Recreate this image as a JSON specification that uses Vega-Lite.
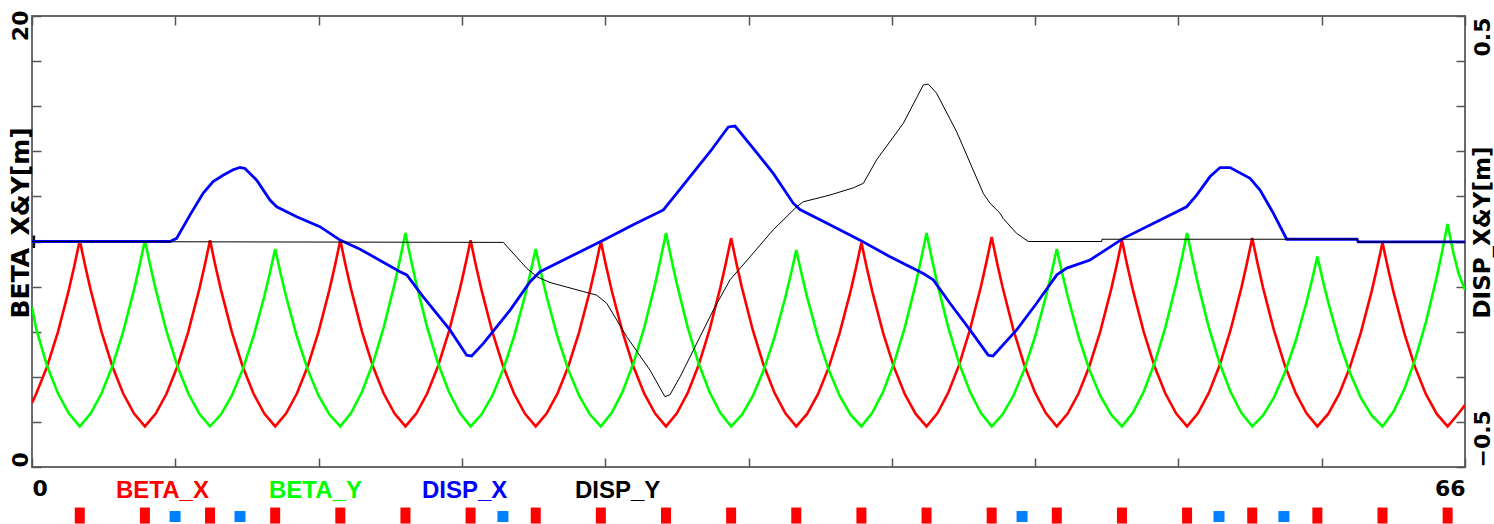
{
  "$schema": "https://vega.github.io/schema/vega-lite/v6.json",
  "width": 1433,
  "height": 451,
  "autosize": {"type": "none"},
  "padding": {"left": 32, "top": 16, "right": 29, "bottom": 57},
  "background": "white",
  "config": {
    "view": {"stroke": "#6a6a6a", "strokeWidth": 2},
    "axis": {"grid": false, "domain": false, "tickColor": "#555555", "tickWidth": 1.5, "labelFont": "DejaVu Sans", "labelFontWeight": "bold", "labelFontSize": 22, "labelColor": "#000000", "titleFont": "DejaVu Sans", "titleFontWeight": "bold", "titleFontSize": 25, "titleColor": "#000000"},
    "legend": {"labelFontWeight": "bold"}
  },
  "datasets": {
    "optics": [
      {"s":0,"v":2.84,"k":"BETA_X"},{"s":0.2,"v":3.257,"k":"BETA_X"},{"s":0.7,"v":4.47,"k":"BETA_X"},{"s":1.2,"v":6.007,"k":"BETA_X"},{"s":1.7,"v":7.867,"k":"BETA_X"},{"s":1.95,"v":8.918,"k":"BETA_X"},{"s":2.2,"v":10.05,"k":"BETA_X"},{"s":2.45,"v":8.918,"k":"BETA_X"},{"s":2.7,"v":7.867,"k":"BETA_X"},{"s":3.2,"v":6.007,"k":"BETA_X"},{"s":3.7,"v":4.47,"k":"BETA_X"},{"s":4.2,"v":3.257,"k":"BETA_X"},{"s":4.7,"v":2.367,"k":"BETA_X"},{"s":5.2,"v":1.8,"k":"BETA_X"},
      {"s":5.7,"v":2.367,"k":"BETA_X"},{"s":6.2,"v":3.257,"k":"BETA_X"},{"s":6.7,"v":4.47,"k":"BETA_X"},{"s":7.2,"v":6.007,"k":"BETA_X"},{"s":7.7,"v":7.867,"k":"BETA_X"},{"s":7.95,"v":8.918,"k":"BETA_X"},{"s":8.2,"v":10.05,"k":"BETA_X"},{"s":8.45,"v":8.918,"k":"BETA_X"},{"s":8.7,"v":7.867,"k":"BETA_X"},{"s":9.2,"v":6.007,"k":"BETA_X"},{"s":9.7,"v":4.47,"k":"BETA_X"},{"s":10.2,"v":3.257,"k":"BETA_X"},{"s":10.7,"v":2.367,"k":"BETA_X"},{"s":11.2,"v":1.8,"k":"BETA_X"},
      {"s":11.7,"v":2.367,"k":"BETA_X"},{"s":12.2,"v":3.257,"k":"BETA_X"},{"s":12.7,"v":4.47,"k":"BETA_X"},{"s":13.2,"v":6.007,"k":"BETA_X"},{"s":13.7,"v":7.867,"k":"BETA_X"},{"s":13.95,"v":8.918,"k":"BETA_X"},{"s":14.2,"v":10.05,"k":"BETA_X"},{"s":14.45,"v":8.918,"k":"BETA_X"},{"s":14.7,"v":7.867,"k":"BETA_X"},{"s":15.2,"v":6.007,"k":"BETA_X"},{"s":15.7,"v":4.47,"k":"BETA_X"},{"s":16.2,"v":3.257,"k":"BETA_X"},{"s":16.7,"v":2.367,"k":"BETA_X"},{"s":17.2,"v":1.8,"k":"BETA_X"},
      {"s":17.7,"v":2.367,"k":"BETA_X"},{"s":18.2,"v":3.257,"k":"BETA_X"},{"s":18.7,"v":4.47,"k":"BETA_X"},{"s":19.2,"v":6.007,"k":"BETA_X"},{"s":19.7,"v":7.867,"k":"BETA_X"},{"s":19.95,"v":8.918,"k":"BETA_X"},{"s":20.2,"v":10.05,"k":"BETA_X"},{"s":20.45,"v":8.918,"k":"BETA_X"},{"s":20.7,"v":7.867,"k":"BETA_X"},{"s":21.2,"v":6.007,"k":"BETA_X"},{"s":21.7,"v":4.47,"k":"BETA_X"},{"s":22.2,"v":3.257,"k":"BETA_X"},{"s":22.7,"v":2.367,"k":"BETA_X"},{"s":23.2,"v":1.8,"k":"BETA_X"},
      {"s":23.7,"v":2.369,"k":"BETA_X"},{"s":24.2,"v":3.252,"k":"BETA_X"},{"s":24.7,"v":4.457,"k":"BETA_X"},{"s":25.2,"v":5.983,"k":"BETA_X"},{"s":25.7,"v":7.828,"k":"BETA_X"},{"s":25.95,"v":8.874,"k":"BETA_X"},{"s":26.2,"v":10.0,"k":"BETA_X"},{"s":26.45,"v":8.874,"k":"BETA_X"},{"s":26.7,"v":7.828,"k":"BETA_X"},{"s":27.2,"v":5.983,"k":"BETA_X"},{"s":27.7,"v":4.457,"k":"BETA_X"},{"s":28.2,"v":3.252,"k":"BETA_X"},{"s":28.7,"v":2.369,"k":"BETA_X"},{"s":29.2,"v":1.8,"k":"BETA_X"},
      {"s":29.7,"v":2.38,"k":"BETA_X"},{"s":30.2,"v":3.283,"k":"BETA_X"},{"s":30.7,"v":4.511,"k":"BETA_X"},{"s":31.2,"v":6.065,"k":"BETA_X"},{"s":31.7,"v":7.945,"k":"BETA_X"},{"s":31.95,"v":9.007,"k":"BETA_X"},{"s":32.2,"v":10.15,"k":"BETA_X"},{"s":32.45,"v":9.007,"k":"BETA_X"},{"s":32.7,"v":7.945,"k":"BETA_X"},{"s":33.2,"v":6.065,"k":"BETA_X"},{"s":33.7,"v":4.511,"k":"BETA_X"},{"s":34.2,"v":3.283,"k":"BETA_X"},{"s":34.7,"v":2.38,"k":"BETA_X"},{"s":35.2,"v":1.8,"k":"BETA_X"},
      {"s":35.7,"v":2.354,"k":"BETA_X"},{"s":36.2,"v":3.231,"k":"BETA_X"},{"s":36.7,"v":4.429,"k":"BETA_X"},{"s":37.2,"v":5.948,"k":"BETA_X"},{"s":37.7,"v":7.789,"k":"BETA_X"},{"s":37.95,"v":8.829,"k":"BETA_X"},{"s":38.2,"v":9.95,"k":"BETA_X"},{"s":38.45,"v":8.829,"k":"BETA_X"},{"s":38.7,"v":7.789,"k":"BETA_X"},{"s":39.2,"v":5.948,"k":"BETA_X"},{"s":39.7,"v":4.429,"k":"BETA_X"},{"s":40.2,"v":3.231,"k":"BETA_X"},{"s":40.7,"v":2.354,"k":"BETA_X"},{"s":41.2,"v":1.8,"k":"BETA_X"},
      {"s":41.7,"v":2.384,"k":"BETA_X"},{"s":42.2,"v":3.294,"k":"BETA_X"},{"s":42.7,"v":4.53,"k":"BETA_X"},{"s":43.2,"v":6.094,"k":"BETA_X"},{"s":43.7,"v":7.983,"k":"BETA_X"},{"s":43.95,"v":9.051,"k":"BETA_X"},{"s":44.2,"v":10.2,"k":"BETA_X"},{"s":44.45,"v":9.051,"k":"BETA_X"},{"s":44.7,"v":7.983,"k":"BETA_X"},{"s":45.2,"v":6.094,"k":"BETA_X"},{"s":45.7,"v":4.53,"k":"BETA_X"},{"s":46.2,"v":3.294,"k":"BETA_X"},{"s":46.7,"v":2.384,"k":"BETA_X"},{"s":47.2,"v":1.8,"k":"BETA_X"},
      {"s":47.7,"v":2.367,"k":"BETA_X"},{"s":48.2,"v":3.257,"k":"BETA_X"},{"s":48.7,"v":4.47,"k":"BETA_X"},{"s":49.2,"v":6.007,"k":"BETA_X"},{"s":49.7,"v":7.867,"k":"BETA_X"},{"s":49.95,"v":8.918,"k":"BETA_X"},{"s":50.2,"v":10.05,"k":"BETA_X"},{"s":50.45,"v":8.918,"k":"BETA_X"},{"s":50.7,"v":7.867,"k":"BETA_X"},{"s":51.2,"v":6.007,"k":"BETA_X"},{"s":51.7,"v":4.47,"k":"BETA_X"},{"s":52.2,"v":3.257,"k":"BETA_X"},{"s":52.7,"v":2.367,"k":"BETA_X"},{"s":53.2,"v":1.8,"k":"BETA_X"},
      {"s":53.7,"v":2.38,"k":"BETA_X"},{"s":54.2,"v":3.283,"k":"BETA_X"},{"s":54.7,"v":4.511,"k":"BETA_X"},{"s":55.2,"v":6.065,"k":"BETA_X"},{"s":55.7,"v":7.945,"k":"BETA_X"},{"s":55.95,"v":9.007,"k":"BETA_X"},{"s":56.2,"v":10.15,"k":"BETA_X"},{"s":56.45,"v":9.007,"k":"BETA_X"},{"s":56.7,"v":7.945,"k":"BETA_X"},{"s":57.2,"v":6.065,"k":"BETA_X"},{"s":57.7,"v":4.511,"k":"BETA_X"},{"s":58.2,"v":3.283,"k":"BETA_X"},{"s":58.7,"v":2.38,"k":"BETA_X"},{"s":59.2,"v":1.8,"k":"BETA_X"},
      {"s":59.7,"v":2.354,"k":"BETA_X"},{"s":60.2,"v":3.231,"k":"BETA_X"},{"s":60.7,"v":4.429,"k":"BETA_X"},{"s":61.2,"v":5.948,"k":"BETA_X"},{"s":61.7,"v":7.789,"k":"BETA_X"},{"s":61.95,"v":8.829,"k":"BETA_X"},{"s":62.2,"v":9.95,"k":"BETA_X"},{"s":62.45,"v":8.829,"k":"BETA_X"},{"s":62.7,"v":7.789,"k":"BETA_X"},{"s":63.2,"v":5.948,"k":"BETA_X"},{"s":63.7,"v":4.429,"k":"BETA_X"},{"s":64.2,"v":3.231,"k":"BETA_X"},{"s":64.7,"v":2.354,"k":"BETA_X"},{"s":65.2,"v":1.8,"k":"BETA_X"},
      {"s":65.7,"v":2.37,"k":"BETA_X"},{"s":66,"v":2.75,"k":"BETA_X"},

      {"s":0,"v":7.1,"k":"BETA_Y"},{"s":0.2,"v":6.1,"k":"BETA_Y"},{"s":0.7,"v":4.47,"k":"BETA_Y"},{"s":1.2,"v":3.257,"k":"BETA_Y"},{"s":1.7,"v":2.367,"k":"BETA_Y"},{"s":2.2,"v":1.8,"k":"BETA_Y"},
      {"s":2.7,"v":2.367,"k":"BETA_Y"},{"s":3.2,"v":3.257,"k":"BETA_Y"},{"s":3.7,"v":4.47,"k":"BETA_Y"},{"s":4.2,"v":6.007,"k":"BETA_Y"},{"s":4.7,"v":7.867,"k":"BETA_Y"},{"s":4.95,"v":8.918,"k":"BETA_Y"},{"s":5.2,"v":10.05,"k":"BETA_Y"},{"s":5.45,"v":8.918,"k":"BETA_Y"},{"s":5.7,"v":7.867,"k":"BETA_Y"},{"s":6.2,"v":6.007,"k":"BETA_Y"},{"s":6.7,"v":4.47,"k":"BETA_Y"},{"s":7.2,"v":3.257,"k":"BETA_Y"},{"s":7.7,"v":2.367,"k":"BETA_Y"},{"s":8.2,"v":1.8,"k":"BETA_Y"},
      {"s":8.7,"v":2.324,"k":"BETA_Y"},{"s":9.2,"v":3.163,"k":"BETA_Y"},{"s":9.7,"v":4.317,"k":"BETA_Y"},{"s":10.2,"v":5.786,"k":"BETA_Y"},{"s":10.7,"v":7.571,"k":"BETA_Y"},{"s":10.95,"v":8.581,"k":"BETA_Y"},{"s":11.2,"v":9.67,"k":"BETA_Y"},{"s":11.45,"v":8.581,"k":"BETA_Y"},{"s":11.7,"v":7.571,"k":"BETA_Y"},{"s":12.2,"v":5.786,"k":"BETA_Y"},{"s":12.7,"v":4.317,"k":"BETA_Y"},{"s":13.2,"v":3.163,"k":"BETA_Y"},{"s":13.7,"v":2.324,"k":"BETA_Y"},{"s":14.2,"v":1.8,"k":"BETA_Y"},
      {"s":14.7,"v":2.401,"k":"BETA_Y"},{"s":15.2,"v":3.335,"k":"BETA_Y"},{"s":15.7,"v":4.6,"k":"BETA_Y"},{"s":16.2,"v":6.196,"k":"BETA_Y"},{"s":16.7,"v":8.122,"k":"BETA_Y"},{"s":16.95,"v":9.21,"k":"BETA_Y"},{"s":17.2,"v":10.38,"k":"BETA_Y"},{"s":17.45,"v":9.21,"k":"BETA_Y"},{"s":17.7,"v":8.122,"k":"BETA_Y"},{"s":18.2,"v":6.196,"k":"BETA_Y"},{"s":18.7,"v":4.6,"k":"BETA_Y"},{"s":19.2,"v":3.335,"k":"BETA_Y"},{"s":19.7,"v":2.401,"k":"BETA_Y"},{"s":20.2,"v":1.8,"k":"BETA_Y"},
      {"s":20.7,"v":2.324,"k":"BETA_Y"},{"s":21.2,"v":3.163,"k":"BETA_Y"},{"s":21.7,"v":4.317,"k":"BETA_Y"},{"s":22.2,"v":5.786,"k":"BETA_Y"},{"s":22.7,"v":7.571,"k":"BETA_Y"},{"s":22.95,"v":8.581,"k":"BETA_Y"},{"s":23.2,"v":9.67,"k":"BETA_Y"},{"s":23.45,"v":8.581,"k":"BETA_Y"},{"s":23.7,"v":7.571,"k":"BETA_Y"},{"s":24.2,"v":5.786,"k":"BETA_Y"},{"s":24.7,"v":4.317,"k":"BETA_Y"},{"s":25.2,"v":3.163,"k":"BETA_Y"},{"s":25.7,"v":2.324,"k":"BETA_Y"},{"s":26.2,"v":1.8,"k":"BETA_Y"},
      {"s":26.7,"v":2.401,"k":"BETA_Y"},{"s":27.2,"v":3.335,"k":"BETA_Y"},{"s":27.7,"v":4.6,"k":"BETA_Y"},{"s":28.2,"v":6.196,"k":"BETA_Y"},{"s":28.7,"v":8.122,"k":"BETA_Y"},{"s":28.95,"v":9.21,"k":"BETA_Y"},{"s":29.2,"v":10.38,"k":"BETA_Y"},{"s":29.45,"v":9.21,"k":"BETA_Y"},{"s":29.7,"v":8.122,"k":"BETA_Y"},{"s":30.2,"v":6.196,"k":"BETA_Y"},{"s":30.7,"v":4.6,"k":"BETA_Y"},{"s":31.2,"v":3.335,"k":"BETA_Y"},{"s":31.7,"v":2.401,"k":"BETA_Y"},{"s":32.2,"v":1.8,"k":"BETA_Y"},
      {"s":32.7,"v":2.32,"k":"BETA_Y"},{"s":33.2,"v":3.152,"k":"BETA_Y"},{"s":33.7,"v":4.298,"k":"BETA_Y"},{"s":34.2,"v":5.758,"k":"BETA_Y"},{"s":34.7,"v":7.532,"k":"BETA_Y"},{"s":34.95,"v":8.537,"k":"BETA_Y"},{"s":35.2,"v":9.62,"k":"BETA_Y"},{"s":35.45,"v":8.537,"k":"BETA_Y"},{"s":35.7,"v":7.532,"k":"BETA_Y"},{"s":36.2,"v":5.758,"k":"BETA_Y"},{"s":36.7,"v":4.298,"k":"BETA_Y"},{"s":37.2,"v":3.152,"k":"BETA_Y"},{"s":37.7,"v":2.32,"k":"BETA_Y"},{"s":38.2,"v":1.8,"k":"BETA_Y"},
      {"s":38.7,"v":2.401,"k":"BETA_Y"},{"s":39.2,"v":3.335,"k":"BETA_Y"},{"s":39.7,"v":4.6,"k":"BETA_Y"},{"s":40.2,"v":6.196,"k":"BETA_Y"},{"s":40.7,"v":8.122,"k":"BETA_Y"},{"s":40.95,"v":9.21,"k":"BETA_Y"},{"s":41.2,"v":10.38,"k":"BETA_Y"},{"s":41.45,"v":9.21,"k":"BETA_Y"},{"s":41.7,"v":8.122,"k":"BETA_Y"},{"s":42.2,"v":6.196,"k":"BETA_Y"},{"s":42.7,"v":4.6,"k":"BETA_Y"},{"s":43.2,"v":3.335,"k":"BETA_Y"},{"s":43.7,"v":2.401,"k":"BETA_Y"},{"s":44.2,"v":1.8,"k":"BETA_Y"},
      {"s":44.7,"v":2.324,"k":"BETA_Y"},{"s":45.2,"v":3.163,"k":"BETA_Y"},{"s":45.7,"v":4.317,"k":"BETA_Y"},{"s":46.2,"v":5.786,"k":"BETA_Y"},{"s":46.7,"v":7.571,"k":"BETA_Y"},{"s":46.95,"v":8.581,"k":"BETA_Y"},{"s":47.2,"v":9.67,"k":"BETA_Y"},{"s":47.45,"v":8.581,"k":"BETA_Y"},{"s":47.7,"v":7.571,"k":"BETA_Y"},{"s":48.2,"v":5.786,"k":"BETA_Y"},{"s":48.7,"v":4.317,"k":"BETA_Y"},{"s":49.2,"v":3.163,"k":"BETA_Y"},{"s":49.7,"v":2.324,"k":"BETA_Y"},{"s":50.2,"v":1.8,"k":"BETA_Y"},
      {"s":50.7,"v":2.401,"k":"BETA_Y"},{"s":51.2,"v":3.335,"k":"BETA_Y"},{"s":51.7,"v":4.6,"k":"BETA_Y"},{"s":52.2,"v":6.196,"k":"BETA_Y"},{"s":52.7,"v":8.122,"k":"BETA_Y"},{"s":52.95,"v":9.21,"k":"BETA_Y"},{"s":53.2,"v":10.38,"k":"BETA_Y"},{"s":53.45,"v":9.21,"k":"BETA_Y"},{"s":53.7,"v":8.122,"k":"BETA_Y"},{"s":54.2,"v":6.196,"k":"BETA_Y"},{"s":54.7,"v":4.6,"k":"BETA_Y"},{"s":55.2,"v":3.335,"k":"BETA_Y"},{"s":55.7,"v":2.401,"k":"BETA_Y"},{"s":56.2,"v":1.8,"k":"BETA_Y"},
      {"s":56.7,"v":2.286,"k":"BETA_Y"},{"s":57.2,"v":3.079,"k":"BETA_Y"},{"s":57.7,"v":4.179,"k":"BETA_Y"},{"s":58.2,"v":5.588,"k":"BETA_Y"},{"s":58.7,"v":7.305,"k":"BETA_Y"},{"s":58.95,"v":8.279,"k":"BETA_Y"},{"s":59.2,"v":9.33,"k":"BETA_Y"},{"s":59.45,"v":8.279,"k":"BETA_Y"},{"s":59.7,"v":7.305,"k":"BETA_Y"},{"s":60.2,"v":5.588,"k":"BETA_Y"},{"s":60.7,"v":4.179,"k":"BETA_Y"},{"s":61.2,"v":3.079,"k":"BETA_Y"},{"s":61.7,"v":2.286,"k":"BETA_Y"},{"s":62.2,"v":1.8,"k":"BETA_Y"},
      {"s":62.7,"v":2.446,"k":"BETA_Y"},{"s":63.2,"v":3.432,"k":"BETA_Y"},{"s":63.7,"v":4.758,"k":"BETA_Y"},{"s":64.2,"v":6.425,"k":"BETA_Y"},{"s":64.7,"v":8.432,"k":"BETA_Y"},{"s":64.95,"v":9.564,"k":"BETA_Y"},{"s":65.2,"v":10.78,"k":"BETA_Y"},{"s":65.45,"v":9.564,"k":"BETA_Y"},{"s":65.7,"v":8.6,"k":"BETA_Y"},{"s":66,"v":7.85,"k":"BETA_Y"},

      {"s":0,"v":0,"k":"DISP_X"},{"s":6.36,"v":0,"k":"DISP_X"},{"s":6.66,"v":0.007,"k":"DISP_X"},{"s":7.28,"v":0.059,"k":"DISP_X"},{"s":7.88,"v":0.107,"k":"DISP_X"},{"s":8.34,"v":0.133,"k":"DISP_X"},{"s":8.8,"v":0.147,"k":"DISP_X"},{"s":9.26,"v":0.159,"k":"DISP_X"},{"s":9.58,"v":0.164,"k":"DISP_X"},{"s":9.81,"v":0.162,"k":"DISP_X"},{"s":10.35,"v":0.136,"k":"DISP_X"},{"s":10.96,"v":0.092,"k":"DISP_X"},{"s":11.27,"v":0.077,"k":"DISP_X"},{"s":12.19,"v":0.055,"k":"DISP_X"},{"s":13.26,"v":0.033,"k":"DISP_X"},{"s":14.19,"v":0.003,"k":"DISP_X"},{"s":15.11,"v":-0.017,"k":"DISP_X"},{"s":16.95,"v":-0.067,"k":"DISP_X"},{"s":17.26,"v":-0.074,"k":"DISP_X"},{"s":18.01,"v":-0.122,"k":"DISP_X"},{"s":19.25,"v":-0.196,"k":"DISP_X"},{"s":20.02,"v":-0.252,"k":"DISP_X"},{"s":20.25,"v":-0.254,"k":"DISP_X"},{"s":20.79,"v":-0.226,"k":"DISP_X"},{"s":22.02,"v":-0.152,"k":"DISP_X"},{"s":22.94,"v":-0.089,"k":"DISP_X"},{"s":23.4,"v":-0.067,"k":"DISP_X"},{"s":24.78,"v":-0.034,"k":"DISP_X"},{"s":26.31,"v":0.003,"k":"DISP_X"},{"s":27.69,"v":0.037,"k":"DISP_X"},{"s":29.08,"v":0.07,"k":"DISP_X"},{"s":29.85,"v":0.116,"k":"DISP_X"},{"s":30.31,"v":0.144,"k":"DISP_X"},{"s":31.23,"v":0.199,"k":"DISP_X"},{"s":32.07,"v":0.254,"k":"DISP_X"},{"s":32.38,"v":0.256,"k":"DISP_X"},{"s":33.21,"v":0.207,"k":"DISP_X"},{"s":34.14,"v":0.151,"k":"DISP_X"},{"s":35.06,"v":0.085,"k":"DISP_X"},{"s":35.37,"v":0.071,"k":"DISP_X"},{"s":36.75,"v":0.037,"k":"DISP_X"},{"s":38.14,"v":0.003,"k":"DISP_X"},{"s":39.52,"v":-0.034,"k":"DISP_X"},{"s":41.05,"v":-0.071,"k":"DISP_X"},{"s":41.51,"v":-0.085,"k":"DISP_X"},{"s":42.28,"v":-0.137,"k":"DISP_X"},{"s":43.2,"v":-0.196,"k":"DISP_X"},{"s":44.04,"v":-0.252,"k":"DISP_X"},{"s":44.26,"v":-0.254,"k":"DISP_X"},{"s":45.35,"v":-0.196,"k":"DISP_X"},{"s":46.27,"v":-0.137,"k":"DISP_X"},{"s":47.2,"v":-0.074,"k":"DISP_X"},{"s":47.66,"v":-0.059,"k":"DISP_X"},{"s":48.73,"v":-0.041,"k":"DISP_X"},{"s":50.26,"v":0.007,"k":"DISP_X"},{"s":51.8,"v":0.044,"k":"DISP_X"},{"s":53.18,"v":0.077,"k":"DISP_X"},{"s":53.64,"v":0.103,"k":"DISP_X"},{"s":54.26,"v":0.144,"k":"DISP_X"},{"s":54.72,"v":0.164,"k":"DISP_X"},{"s":55.18,"v":0.164,"k":"DISP_X"},{"s":56.1,"v":0.14,"k":"DISP_X"},{"s":56.56,"v":0.114,"k":"DISP_X"},{"s":57.17,"v":0.063,"k":"DISP_X"},{"s":57.79,"v":0.005,"k":"DISP_X"},{"s":61.03,"v":0.005,"k":"DISP_X"},{"s":61.08,"v":-0.001,"k":"DISP_X"},{"s":66,"v":-0.001,"k":"DISP_X"},

      {"s":0,"v":0,"k":"DISP_Y"},{"s":21.71,"v":-0.002,"k":"DISP_Y"},{"s":22.78,"v":-0.059,"k":"DISP_Y"},{"s":23.25,"v":-0.078,"k":"DISP_Y"},{"s":23.86,"v":-0.091,"k":"DISP_Y"},{"s":25.39,"v":-0.111,"k":"DISP_Y"},{"s":26.01,"v":-0.119,"k":"DISP_Y"},{"s":26.47,"v":-0.137,"k":"DISP_Y"},{"s":27.39,"v":-0.211,"k":"DISP_Y"},{"s":28.46,"v":-0.285,"k":"DISP_Y"},{"s":29.15,"v":-0.344,"k":"DISP_Y"},{"s":29.38,"v":-0.34,"k":"DISP_Y"},{"s":29.85,"v":-0.3,"k":"DISP_Y"},{"s":30.46,"v":-0.241,"k":"DISP_Y"},{"s":31.38,"v":-0.152,"k":"DISP_Y"},{"s":32.15,"v":-0.085,"k":"DISP_Y"},{"s":33.07,"v":-0.034,"k":"DISP_Y"},{"s":34.14,"v":0.026,"k":"DISP_Y"},{"s":35.22,"v":0.077,"k":"DISP_Y"},{"s":35.52,"v":0.088,"k":"DISP_Y"},{"s":36.75,"v":0.103,"k":"DISP_Y"},{"s":37.83,"v":0.119,"k":"DISP_Y"},{"s":38.29,"v":0.129,"k":"DISP_Y"},{"s":38.9,"v":0.181,"k":"DISP_Y"},{"s":40.13,"v":0.262,"k":"DISP_Y"},{"s":41.05,"v":0.347,"k":"DISP_Y"},{"s":41.28,"v":0.349,"k":"DISP_Y"},{"s":41.66,"v":0.329,"k":"DISP_Y"},{"s":42.59,"v":0.243,"k":"DISP_Y"},{"s":43.81,"v":0.107,"k":"DISP_Y"},{"s":44.12,"v":0.085,"k":"DISP_Y"},{"s":44.58,"v":0.063,"k":"DISP_Y"},{"s":44.73,"v":0.051,"k":"DISP_Y"},{"s":45.35,"v":0.018,"k":"DISP_Y"},{"s":45.89,"v":0,"k":"DISP_Y"},{"s":49.27,"v":0,"k":"DISP_Y"},{"s":49.28,"v":0.005,"k":"DISP_Y"},{"s":61.03,"v":0.005,"k":"DISP_Y"},{"s":61.08,"v":-0.001,"k":"DISP_Y"},{"s":66,"v":-0.001,"k":"DISP_Y"}
    ],
    "magnets": [
      {"s":2.2,"t":"Q"},{"s":5.2,"t":"Q"},{"s":8.2,"t":"Q"},{"s":11.2,"t":"Q"},{"s":14.2,"t":"Q"},{"s":17.2,"t":"Q"},{"s":20.2,"t":"Q"},{"s":23.2,"t":"Q"},{"s":26.2,"t":"Q"},{"s":29.2,"t":"Q"},{"s":32.2,"t":"Q"},{"s":35.2,"t":"Q"},{"s":38.2,"t":"Q"},{"s":41.2,"t":"Q"},{"s":44.2,"t":"Q"},{"s":47.2,"t":"Q"},{"s":50.2,"t":"Q"},{"s":53.2,"t":"Q"},{"s":56.2,"t":"Q"},{"s":59.2,"t":"Q"},{"s":62.2,"t":"Q"},{"s":65.2,"t":"Q"},
      {"s":6.59,"t":"S"},{"s":9.58,"t":"S"},{"s":21.69,"t":"S"},{"s":45.6,"t":"S"},{"s":54.67,"t":"S"},{"s":57.66,"t":"S"}
    ]
  },
  "layer": [
    {
      "data": {"name": "optics"},
      "transform": [{"filter": "datum.k == 'BETA_X' || datum.k == 'BETA_Y'"}],
      "mark": {"type": "line", "strokeWidth": 2.6, "clip": true},
      "encoding": {
        "x": {"field": "s", "type": "quantitative", "scale": {"domain": [0, 66], "nice": false, "zero": false},
              "axis": {"orient": "bottom", "title": null, "values": [0, 6.6, 13.2, 19.8, 26.4, 33, 39.6, 46.2, 52.8, 59.4, 66],
                       "labelExpr": "datum.value == 0 || datum.value == 66 ? datum.label : ''", "labelFlush": true, "tickSize": -9, "labelPadding": 20, "labelBaseline": "top"}},
        "y": {"field": "v", "type": "quantitative", "scale": {"domain": [0, 20], "nice": false},
              "axis": {"orient": "left", "title": "BETA_X&Y[m]", "values": [0, 2, 4, 6, 8, 10, 12, 14, 16, 18, 20],
                       "labelExpr": "datum.value == 0 || datum.value == 20 ? datum.label : ''",
                       "labelAngle": -90, "labelBaseline": "bottom",
                       "labelAlign": {"condition": {"test": "datum.value == 0", "value": "left"}, "value": "right"},
                       "labelOffset": {"condition": {"test": "datum.value == 0", "value": 0}, "value": -6},
                       "tickSize": -9, "labelPadding": 9,
                       "titleAngle": -90, "titleX": -12, "titleY": 302, "titleAlign": "left", "titleBaseline": "middle"}},
        "color": {"field": "k", "type": "nominal",
                  "scale": {"domain": ["BETA_X", "BETA_Y", "DISP_X", "DISP_Y"], "range": ["#ff0000", "#00ff00", "#0000ff", "#000000"]},
                  "legend": {"orient": "none", "legendX": 60, "legendY": 470, "direction": "horizontal", "columns": 4, "title": null,
                             "padding": 0, "symbolSize": 0, "symbolOpacity": 0, "symbolStrokeWidth": 0, "labelOffset": 0,
                             "gridAlign": "all", "columnPadding": 36,
                             "labelFont": "Liberation Sans", "labelFontWeight": "bold", "labelFontSize": 24, "labelBaseline": "alphabetic",
                             "labelColor": {"expr": "datum.value == 'BETA_X' ? '#ff0000' : datum.value == 'BETA_Y' ? '#00ff00' : datum.value == 'DISP_X' ? '#0000ff' : '#000000'"}}}
      }
    },
    {
      "data": {"name": "optics"},
      "transform": [{"filter": "datum.k == 'DISP_X' || datum.k == 'DISP_Y'"}],
      "mark": {"type": "line", "clip": true},
      "encoding": {
        "x": {"field": "s", "type": "quantitative", "scale": {"domain": [0, 66], "nice": false, "zero": false},
              "axis": {"orient": "top", "title": null, "values": [0, 6.6, 13.2, 19.8, 26.4, 33, 39.6, 46.2, 52.8, 59.4, 66], "labels": false, "tickSize": -9}},
        "y": {"field": "v", "type": "quantitative", "scale": {"domain": [-0.5, 0.5], "nice": false, "zero": false},
              "axis": {"orient": "right", "title": "DISP_X&Y[m]", "values": [-0.5, -0.4, -0.3, -0.2, -0.1, 0, 0.1, 0.2, 0.3, 0.4, 0.5],
                       "labelExpr": "datum.value == -0.5 || datum.value == 0.5 ? datum.label : ''",
                       "labelAngle": -90, "labelBaseline": "top",
                       "labelAlign": {"condition": {"test": "datum.value < 0", "value": "left"}, "value": "right"},
                       "labelOffset": {"condition": {"test": "datum.value < 0", "value": 0}, "value": 1},
                       "tickSize": -9, "labelPadding": 16,
                       "titleFontSize": 23,
                       "titleAngle": -90, "titleX": 17, "titleY": 302, "titleAlign": "left", "titleBaseline": "middle"}},
        "color": {"field": "k", "type": "nominal"},
        "strokeWidth": {"field": "k", "type": "nominal", "scale": {"domain": ["DISP_X", "DISP_Y"], "range": [2.8, 1]}, "legend": null}
      }
    },
    {
      "data": {"name": "magnets"},
      "mark": {"type": "point", "filled": true, "opacity": 1, "strokeWidth": 0},
      "encoding": {
        "x": {"field": "s", "type": "quantitative", "scale": {"domain": [0, 66], "nice": false, "zero": false}, "axis": null},
        "y": {"datum": -2.13, "type": "quantitative", "scale": {"domain": [0, 20], "nice": false}, "axis": null},
        "yOffset": {"field": "t", "type": "nominal", "scale": {"domain": ["Q", "S"], "range": [0, 2]}},
        "shape": {"field": "t", "type": "nominal", "scale": {"domain": ["Q", "S"], "range": ["M-0.625,-1H0.625V1H-0.625Z", "square"]}, "legend": null},
        "size": {"field": "t", "type": "ordinal", "scale": {"domain": ["Q", "S"], "range": [256, 121]}, "legend": null},
        "fill": {"field": "t", "type": "nominal", "scale": {"domain": ["Q", "S"], "range": ["#ff0000", "#0080ff"]}, "legend": null}
      }
    }
  ],
  "resolve": {"scale": {"y": "independent"}, "axis": {"x": "independent", "y": "independent"}}
}
